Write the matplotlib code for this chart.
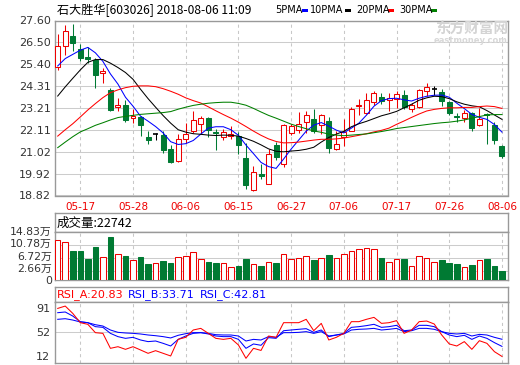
import matplotlib
matplotlib.use('Agg')
import matplotlib.pyplot as plt
import numpy as np
from matplotlib.patches import Rectangle

plt.rcParams['font.family'] = ['DejaVu Sans', 'Noto Sans CJK SC']

# ---------------- data ----------------
dates = ['05-14', '05-15', '05-16', '05-17', '05-18', '05-21', '05-22', '05-23', '05-24', '05-25',
         '05-28', '05-29', '05-30', '05-31', '06-01', '06-04', '06-05', '06-06', '06-07', '06-08',
         '06-11', '06-12', '06-13', '06-14', '06-15', '06-19', '06-20', '06-21', '06-22', '06-25',
         '06-26', '06-27', '06-28', '06-29', '07-02', '07-03', '07-04', '07-05', '07-06', '07-09',
         '07-10', '07-11', '07-12', '07-13', '07-16', '07-17', '07-18', '07-19', '07-20', '07-23',
         '07-24', '07-25', '07-26', '07-27', '07-30', '07-31', '08-01', '08-02', '08-03', '08-06']
date_labels = ['05-17', '05-28', '06-06', '06-15', '06-27', '07-06', '07-17', '07-26', '08-06']

opens = [25.27, 26.33, 26.80, 26.19, 25.77, 25.61, 24.95, 24.10, 23.28, 23.36,
         22.69, 22.78, 21.75, 21.90, 21.84, 21.13, 20.55, 21.67, 22.06, 22.39,
         22.73, 22.03, 21.74, 21.81, 21.81, 20.72, 19.12, 19.91, 19.41, 21.34,
         20.38, 21.95, 22.10, 22.51, 22.68, 22.34, 22.56, 21.13, 21.75, 22.06,
         23.30, 22.94, 23.53, 23.76, 23.62, 23.65, 23.86, 23.14, 23.26, 24.07,
         24.15, 24.03, 23.53, 22.81, 22.73, 22.98, 22.36, 22.92, 22.34, 21.30]
highs = [26.91, 27.38, 27.42, 26.44, 26.28, 25.74, 25.24, 24.23, 23.73, 23.60,
         23.18, 22.81, 22.05, 21.97, 22.05, 21.34, 21.89, 22.47, 23.06, 22.80,
         22.76, 22.14, 22.14, 22.31, 22.01, 21.47, 20.31, 20.41, 21.17, 21.52,
         22.42, 22.42, 23.01, 23.06, 23.18, 22.89, 22.76, 22.06, 22.68, 23.26,
         23.68, 23.98, 24.07, 23.95, 23.95, 24.07, 24.10, 23.48, 24.15, 24.48,
         24.32, 24.18, 23.56, 22.98, 23.09, 23.01, 23.19, 22.95, 22.51, 21.33]
lows = [25.10, 25.87, 26.08, 25.57, 25.49, 24.20, 24.48, 23.06, 23.06, 22.51,
        22.47, 21.80, 21.42, 21.59, 20.93, 20.43, 20.50, 21.43, 21.97, 21.97,
        21.76, 21.10, 21.59, 21.64, 20.88, 19.17, 19.07, 19.63, 19.38, 20.58,
        20.25, 21.85, 21.97, 21.97, 21.97, 21.89, 20.93, 21.10, 21.30, 22.06,
        22.84, 22.89, 23.36, 23.40, 23.05, 23.23, 23.14, 23.03, 23.23, 23.81,
        23.86, 23.31, 22.86, 22.52, 22.52, 22.06, 22.31, 21.42, 21.42, 20.72]
closes = [26.33, 27.08, 26.46, 25.71, 25.69, 24.85, 25.07, 23.09, 23.35, 22.61,
          22.83, 22.34, 21.60, 21.90, 21.08, 20.51, 21.67, 21.92, 22.61, 22.73,
          22.09, 21.96, 22.03, 21.89, 21.34, 19.34, 20.01, 19.79, 20.92, 20.75,
          22.36, 22.30, 22.42, 22.84, 22.06, 22.84, 21.18, 21.42, 22.01, 23.18,
          23.36, 23.61, 23.95, 23.56, 23.72, 23.90, 23.26, 23.36, 24.12, 24.27,
          24.15, 23.56, 22.98, 22.74, 22.98, 22.19, 22.68, 22.86, 21.59, 20.80]

ma5 = [25.32, 25.69, 25.90, 26.11, 26.25, 25.98, 25.55, 24.92, 24.41, 23.75,
       23.30, 22.80, 22.55, 22.28, 21.96, 21.52, 21.38, 21.42, 21.58, 21.90,
       22.20, 22.27, 22.27, 22.12, 21.84, 21.35, 20.92, 20.48, 20.27, 20.18,
       20.65, 21.15, 21.60, 22.05, 22.35, 22.48, 22.30, 22.10, 21.96, 22.20,
       22.45, 22.85, 23.30, 23.58, 23.68, 23.70, 23.62, 23.56, 23.70, 23.80,
       23.85, 23.86, 23.75, 23.45, 23.18, 22.89, 22.74, 22.64, 22.38, 22.00]
ma10 = [23.81, 24.27, 24.70, 25.12, 25.50, 25.64, 25.64, 25.46, 25.24, 24.99,
        24.65, 24.15, 23.68, 23.25, 22.83, 22.45, 22.12, 22.00, 21.92, 21.89,
        21.85, 21.83, 21.85, 21.84, 21.80, 21.68, 21.54, 21.36, 21.16, 21.04,
        21.01, 21.05, 21.08, 21.14, 21.24, 21.50, 21.73, 21.90, 22.04, 22.27,
        22.42, 22.54, 22.68, 22.82, 22.92, 23.04, 23.22, 23.40, 23.60, 23.72,
        23.80, 23.78, 23.68, 23.52, 23.40, 23.32, 23.27, 23.08, 22.86, 22.64]
ma20 = [21.80, 22.12, 22.42, 22.76, 23.11, 23.43, 23.73, 23.98, 24.12, 24.23,
        24.30, 24.32, 24.32, 24.28, 24.18, 24.05, 23.90, 23.72, 23.58, 23.46,
        23.27, 23.07, 22.88, 22.70, 22.50, 22.28, 22.05, 21.84, 21.66, 21.53,
        21.46, 21.47, 21.50, 21.55, 21.60, 21.64, 21.64, 21.66, 21.70, 21.77,
        21.84, 21.92, 22.01, 22.09, 22.20, 22.39, 22.56, 22.74, 22.91, 23.06,
        23.14, 23.19, 23.22, 23.22, 23.24, 23.24, 23.28, 23.31, 23.28, 23.19]
ma30 = [21.22, 21.50, 21.77, 22.01, 22.17, 22.34, 22.47, 22.61, 22.73, 22.79,
        22.84, 22.89, 22.92, 22.95, 22.98, 23.03, 23.15, 23.25, 23.34, 23.40,
        23.45, 23.48, 23.50, 23.50, 23.44, 23.35, 23.19, 23.01, 22.84, 22.70,
        22.55, 22.40, 22.28, 22.17, 22.06, 21.99, 21.90, 21.85, 21.82, 21.85,
        21.88, 21.91, 21.97, 22.03, 22.10, 22.18, 22.23, 22.28, 22.33, 22.38,
        22.43, 22.47, 22.50, 22.55, 22.61, 22.70, 22.78, 22.86, 22.88, 22.88]

# volume in 万 (10k) lots
volume = [12.45, 11.83, 8.82, 8.82, 6.54, 10.27, 7.05, 13.38, 7.99, 7.47,
          6.22, 7.16, 4.98, 5.29, 5.91, 5.29, 7.05, 7.37, 8.71, 6.43,
          5.71, 5.29, 5.19, 3.94, 4.36, 6.54, 4.88, 4.36, 5.50, 5.19,
          7.99, 6.43, 6.74, 7.37, 6.22, 6.74, 7.78, 6.74, 7.99, 9.02,
          9.54, 9.85, 9.54, 6.85, 5.60, 6.43, 6.54, 4.36, 7.37, 6.74,
          5.71, 6.22, 5.29, 4.98, 3.94, 4.67, 6.22, 6.54, 4.36, 2.90]

rsi_a = [82.4, 85.4, 76.0, 64.1, 62.0, 51.3, 50.4, 31.2, 33.3, 29.9,
         33.3, 29.1, 24.8, 28.2, 24.8, 21.4, 42.7, 45.3, 54.7, 56.8,
         50.4, 44.0, 42.7, 44.0, 35.5, 18.4, 31.2, 28.5, 47.0, 45.3,
         64.1, 64.1, 64.1, 68.4, 53.8, 63.2, 41.9, 45.3, 50.4, 65.4,
         65.4, 68.4, 70.9, 63.2, 64.1, 66.7, 50.4, 54.7, 65.4, 66.2,
         62.4, 48.3, 36.8, 34.2, 39.8, 29.9, 41.0, 37.6, 26.9, 20.83]
rsi_b = [76.9, 77.8, 72.6, 65.4, 64.1, 59.0, 58.1, 50.4, 46.2, 44.0,
         45.3, 41.9, 39.8, 40.6, 37.6, 34.2, 42.7, 47.0, 50.4, 51.3,
         49.6, 47.0, 46.2, 46.2, 42.7, 31.2, 36.8, 35.1, 44.9, 44.0,
         53.8, 54.7, 55.6, 56.4, 51.7, 54.7, 46.2, 48.3, 50.4, 58.1,
         59.0, 60.3, 62.0, 58.1, 59.0, 60.7, 53.8, 54.7, 60.7, 60.7,
         59.0, 52.6, 48.3, 46.2, 47.9, 42.7, 47.0, 44.0, 38.5, 33.71]
rsi_c = [68.4, 69.2, 67.5, 65.0, 64.1, 61.5, 59.8, 54.7, 51.7, 50.9,
         50.4, 49.6, 48.3, 47.4, 46.2, 44.5, 47.9, 50.0, 51.3, 51.3,
         50.4, 48.7, 48.3, 48.3, 47.0, 40.6, 42.7, 41.9, 46.2, 45.3,
         51.3, 51.3, 51.7, 52.6, 50.4, 52.6, 47.0, 48.3, 49.6, 54.7,
         55.6, 56.0, 56.8, 54.7, 55.6, 56.8, 52.6, 53.8, 56.8, 56.8,
         55.6, 52.6, 50.4, 49.6, 50.4, 47.0, 49.1, 48.3, 45.3, 42.81]

price_ticks = [18.82, 19.92, 21.02, 22.11, 23.21, 24.31, 25.40, 26.50, 27.60]
vol_ticks = [0, 2.66, 6.72, 10.78, 14.83]
vol_tick_labels = ['0', '2.66万', '6.72万', '10.78万', '14.83万']
rsi_ticks = [91, 52, 12]

# ---------------- style ----------------
RED = '#ee0000'
GREEN = '#007a33'
FRAME = '#999999'
GRID = '#cccccc'
TXT = '#333333'
W, H = 520, 365
fig = plt.figure(figsize=(W / 100, H / 100), dpi=100)
fig.patch.set_facecolor('white')


def px_axes(l, t, r, b):
    return fig.add_axes([l / W, 1 - b / H, (r - l) / W, (b - t) / H])


def frame(ax):
    for s in ax.spines.values():
        s.set_color(FRAME)
        s.set_linewidth(1.0)


x = np.arange(len(dates))
o = np.array(opens); c = np.array(closes); hi = np.array(highs); lo = np.array(lows)
grid_idx = [dates.index(d) for d in date_labels]
XL = (-0.36, 59.8)
BW = 0.66
LW = 0.75

# ---------------- price panel ----------------
ax = px_axes(55, 20.5, 508, 195.5)
frame(ax)
ax.set_xlim(*XL)
ax.set_ylim(price_ticks[0], price_ticks[-1])
ax.set_yticks(price_ticks)
ax.set_yticklabels(['%.2f' % v for v in price_ticks])
ax.yaxis.grid(True, color=GRID, lw=LW, ls='-', zorder=0)
for g in grid_idx:
    ax.axvline(g, color='#c8c8c8', lw=LW, ls=(0, (3, 3)), zorder=0)
ax.set_axisbelow(True)
ax.set_xticks(grid_idx)
ax.set_xticklabels(date_labels)
ax.tick_params(axis='x', length=0, pad=5, labelsize=7.5, labelcolor=RED)
ax.tick_params(axis='y', length=0, pad=3, labelsize=8, labelcolor=TXT)

up = c > o
dn = c < o
fl = c == o
top = np.maximum(o, c)
bot = np.minimum(o, c)
# up candles: hollow red
ax.vlines(x[up], top[up], hi[up], color=RED, lw=LW, zorder=2)
ax.vlines(x[up], lo[up], bot[up], color=RED, lw=LW, zorder=2)
ax.bar(x[up], np.maximum(c[up] - o[up], 0.02), bottom=o[up], width=BW,
       facecolor='white', edgecolor=RED, linewidth=LW, zorder=3)
# down candles: filled green
ax.vlines(x[dn], lo[dn], hi[dn], color=GREEN, lw=LW, zorder=2)
ax.bar(x[dn], np.maximum(o[dn] - c[dn], 0.04), bottom=c[dn], width=BW,
       color=GREEN, edgecolor=GREEN, linewidth=LW, zorder=3)
# doji: black cross
ax.vlines(x[fl], lo[fl], hi[fl], color='black', lw=LW, zorder=2)
ax.hlines(o[fl], x[fl] - BW / 2, x[fl] + BW / 2, color='black', lw=1.2, zorder=3)

ax.plot(x, ma5, color='#0000ff', lw=LW, zorder=4)
ax.plot(x, ma10, color='black', lw=LW, zorder=4)
ax.plot(x, ma20, color='#ff0000', lw=LW, zorder=4)
ax.plot(x, ma30, color='#008000', lw=LW, zorder=4)

# title & legend
fig.text(57 / W, 1 - 10 / H, '石大胜华[603026] 2018-08-06 11:09', family=['Noto Sans CJK SC'],
         fontsize=8.7, color='black', va='center', ha='left')
leg = [('5PMA', 275, '#0000ff', 302), ('10PMA', 310, 'black', 345),
       ('20PMA', 356, '#ff0000', 388), ('30PMA', 399, '#008000', 431)]
for name, tx, col, sx in leg:
    fig.text(tx / W, 1 - 10 / H, name, fontsize=7, color='black', va='center', ha='left')
    fig.patches.append(Rectangle((sx / W, 1 - 12 / H), 5.5 / W, 3 / H, transform=fig.transFigure,
                                 facecolor=col, edgecolor='none'))
# watermark
fig.text(472 / W, 1 - 29 / H, '东方财富网', family=['Noto Sans CJK SC'], fontsize=10.5,
         fontweight='bold', color='#d4d4d4', ha='center', va='center', zorder=0)
fig.text(471 / W, 1 - 40.5 / H, 'eastmoney.com', fontsize=6, fontweight='bold',
         color='#d8d8d8', ha='center', va='center', zorder=0)

# ---------------- volume panel ----------------
axt = px_axes(55, 213, 508, 232)
frame(axt)
axt.set_xticks([]); axt.set_yticks([])
axt.text(0.004, 0.48, '成交量:22742', transform=axt.transAxes, family=['Noto Sans CJK SC'],
         fontsize=9, va='center', ha='left', color='black')

axv = px_axes(55, 232, 508, 280)
frame(axv)
axv.set_xlim(*XL)
axv.set_ylim(0, vol_ticks[-1])
axv.set_yticks(vol_ticks)
axv.set_yticklabels([])
axv.tick_params(axis='y', length=0)
axv.set_xticks([])
axv.yaxis.grid(True, color=GRID, lw=LW, ls='-', zorder=0)
for g in grid_idx:
    axv.axvline(g, color='#c8c8c8', lw=LW, ls=(0, (3, 3)), zorder=0)
axv.set_axisbelow(True)
vol = np.array(volume)
vup = c >= o
axv.bar(x[vup], vol[vup], width=0.74, facecolor='white', edgecolor=RED, linewidth=LW, zorder=3)
axv.bar(x[~vup], vol[~vup], width=0.74, color=GREEN, edgecolor=GREEN, linewidth=LW, zorder=3)
# volume tick labels placed as in the reference (label rows spaced evenly)
for lab, ypx in zip(vol_tick_labels, [280.5, 269.0, 256.8, 244.3, 232.3]):
    fig.text(52 / W, 1 - ypx / H, lab, fontsize=7.8, color=TXT, ha='right', va='center')

# ---------------- RSI panel ----------------
axr_t = px_axes(55, 287, 508, 301.7)
frame(axr_t)
axr_t.set_xticks([]); axr_t.set_yticks([])
fig.text(57 / W, 1 - 294.5 / H, 'RSI_A:%.2f' % rsi_a[-1], fontsize=8, color='#ff0000', va='center')
fig.text(128 / W, 1 - 294.5 / H, 'RSI_B:%.2f' % rsi_b[-1], fontsize=8, color='#0000ff', va='center')
fig.text(200 / W, 1 - 294.5 / H, 'RSI_C:%.2f' % rsi_c[-1], fontsize=8, color='#0000ff', va='center')

axr = px_axes(55, 301.7, 508, 363.3)
frame(axr)
axr.set_xlim(*XL)
axr.set_ylim(12, 91)
axr.set_xticks([]); axr.set_yticks([])
axr.axhline(52, color=GRID, lw=LW, zorder=0)
for g in grid_idx:
    axr.axvline(g, color='#c8c8c8', lw=LW, ls=(0, (3, 3)), zorder=0)
axr.plot(x, rsi_c, color='#0000ff', lw=LW, zorder=3)
axr.plot(x, rsi_b, color='#0000ff', lw=LW, zorder=3)
axr.plot(x, rsi_a, color='#ff0000', lw=LW, zorder=4)
for val, ypx in zip(rsi_ticks, [309.5, 333.3, 356.5]):
    fig.text(50 / W, 1 - ypx / H, str(val), fontsize=8, color=TXT, ha='right', va='center')

fig.savefig('out.png', dpi=100, facecolor='white')
